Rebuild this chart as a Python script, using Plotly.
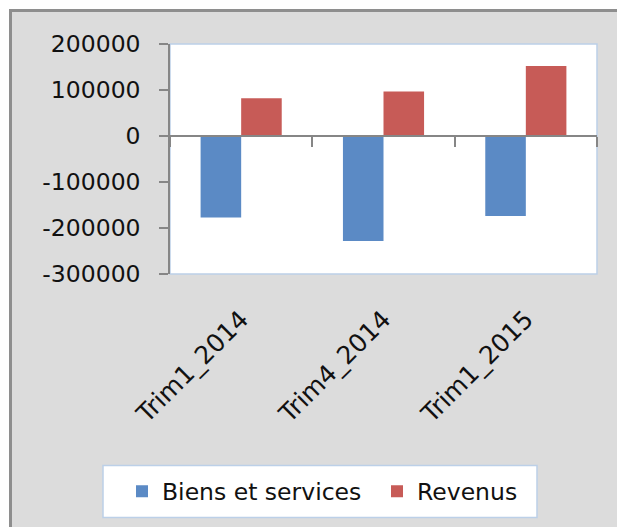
import plotly.graph_objects as go

# ---- data ----
categories = ["Trim1_2014", "Trim4_2014", "Trim1_2015"]
biens_services = [-177000, -228000, -174000]
revenus = [82000, 97000, 152000]
series_names = ["Biens et services", "Revenus"]
y_tickvals = [-300000, -200000, -100000, 0, 100000, 200000]
y_ticktext = ["-300000", "-200000", "-100000", "0", "100000", "200000"]
y_range = [-300000, 200000]

# ---- layout geometry (page pixels; body margin removed below) ----
W, H = 617, 527
L, T = 170, 44
R = W - 597
B = H - 274
PW = W - L - R
PH = H - T - B


def px_x(px):
    return (px - L) / PW


def px_y(py):
    return (H - B - py) / PH


FONT = "DejaVu Sans"
FSIZE = 23.5
XFSIZE = 25
TXT = "#111111"
AXIS_COL = "#868686"
PLOT_BORDER = "#BCD0E8"
zero_pos = (0 - y_range[0]) / (y_range[1] - y_range[0])

fig = go.Figure()
fig.add_trace(go.Bar(x=categories, y=biens_services, name=series_names[0],
                     legendwidth=210,
                     marker=dict(color="#5B8AC5", line=dict(width=0))))
fig.add_trace(go.Bar(x=categories, y=revenus, name=series_names[1],
                     marker=dict(color="#C75B57", line=dict(width=0))))

fx0, fy0 = px_x(10.5), px_y(10.5)
fx1, fy1 = px_x(640), px_y(560)
shapes = [
    # outer chart area fill
    dict(type="rect", xref="paper", yref="paper", layer="below",
         x0=fx0, x1=fx1, y0=fy0, y1=fy1,
         fillcolor="#DCDCDC", line=dict(width=0)),
    # outer chart frame: only left and top edges are visible
    dict(type="path", xref="paper", yref="paper", layer="below",
         path=f"M{fx0},{fy1} L{fx0},{fy0} L{fx1},{fy0}",
         line=dict(color="#8E8E8E", width=3)),
    # plot area
    dict(type="rect", xref="paper", yref="paper", layer="below",
         x0=0, x1=1, y0=0, y1=1,
         fillcolor="white", line=dict(color=PLOT_BORDER, width=1.5)),
    # legend box
    dict(type="rect", xref="paper", yref="paper", layer="below",
         x0=px_x(103), x1=px_x(537), y0=px_y(465.5), y1=px_y(517.5),
         fillcolor="white", line=dict(color=PLOT_BORDER, width=1.5)),
]

fig.update_layout(
    width=W, height=H,
    margin=dict(l=L, r=R, t=T, b=B, pad=0),
    paper_bgcolor="white",
    plot_bgcolor="rgba(0,0,0,0)",
    font=dict(family=FONT, size=FSIZE, color=TXT),
    barmode="group", bargap=0.43, bargroupgap=0,
    showlegend=True,
    legend=dict(orientation="h", x=px_x(122), xanchor="left",
                y=px_y(491.5), yanchor="middle",
                bgcolor="rgba(0,0,0,0)", borderwidth=0,
                font=dict(family=FONT, size=FSIZE, color=TXT),
                traceorder="normal"),
    shapes=shapes,
    xaxis=dict(type="category", range=[-0.5, 2.5],
               anchor="free", position=zero_pos,
               showline=True, linecolor=AXIS_COL, linewidth=1.5,
               ticks="outside", tickson="boundaries", ticklen=10,
               tickcolor=AXIS_COL, tickwidth=1.5,
               tickangle=-45, ticklabelstandoff=158,
               showgrid=False, zeroline=False,
               tickfont=dict(family=FONT, size=XFSIZE, color=TXT)),
    yaxis=dict(range=y_range, tickmode="array", tickvals=y_tickvals,
               ticktext=y_ticktext,
               showline=True, linecolor=AXIS_COL, linewidth=1.5,
               ticks="outside", ticklen=9, tickcolor=AXIS_COL, tickwidth=1.5,
               ticklabelstandoff=14,
               showgrid=False, zeroline=False,
               tickfont=dict(family=FONT, size=FSIZE, color=TXT)),
)

fig.write_html(
    "out.html",
    config={"displayModeBar": False},
    post_script="document.body.style.margin='0';"
                "document.body.style.overflow='hidden';",
)
